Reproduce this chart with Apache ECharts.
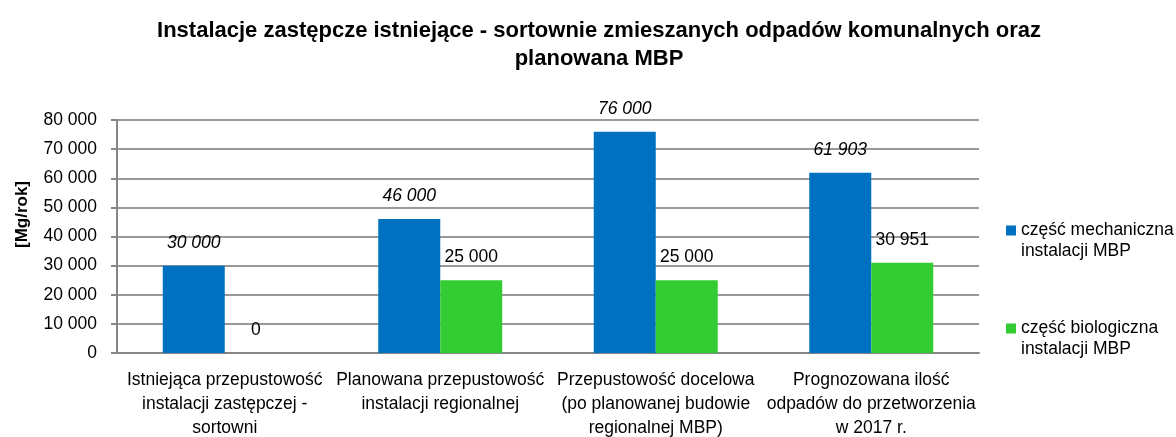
<!DOCTYPE html>
<html>
<head>
<meta charset="utf-8">
<script src="https://cdn.jsdelivr.net/npm/echarts@6/dist/echarts.min.js"></script>
<style>
  html, body { margin: 0; padding: 0; background: #fff; }
  #chart { width: 1176px; height: 437px; }
</style>
</head>
<body>
<div id="chart"></div>
<script>
// data
const categories = [
  "Istniejąca przepustowość\ninstalacji zastępczej -\nsortowni",
  "Planowana przepustowość\ninstalacji regionalnej",
  "Przepustowość docelowa\n(po planowanej budowie\nregionalnej MBP)",
  "Prognozowana ilość\nodpadów do przetworzenia\nw 2017 r."
];
const mechValues = [30000, 46000, 76000, 61903];
const bioValues = [0, 25000, 25000, 30951];
const seriesNames = ["część mechaniczna\ninstalacji MBP", "część biologiczna\ninstalacji MBP"];
const yTicks = [0, 10000, 20000, 30000, 40000, 50000, 60000, 70000, 80000];

const FONT = "'Liberation Sans', Arial, sans-serif";
const fmt = v => String(v).replace(/\B(?=(\d{3})+(?!\d))/g, " ");

const chart = echarts.init(document.getElementById("chart"));
chart.setOption({
  animation: false,
  textStyle: { fontFamily: FONT },
  color: ["#0070C0", "#33CC33"],
  title: {
    text: "Instalacje zastępcze istniejące - sortownie zmieszanych odpadów komunalnych oraz\nplanowana MBP",
    left: 594,
    textAlign: "center",
    top: 12,
    textStyle: { fontSize: 22, fontWeight: "bold", color: "#000", lineHeight: 28, fontFamily: FONT }
  },
  legend: {
    orient: "vertical",
    left: 1001,
    top: 215,
    itemWidth: 10,
    itemHeight: 31,
    itemGap: 56,
    // square sits on the first text line, tiny dot keeps the box tall
    icon: "path://M0,0h10v10h-10z M0,30.9h0.1v0.1h-0.1z",
    data: seriesNames,
    textStyle: { fontSize: 17.5, color: "#000", lineHeight: 21, fontFamily: FONT }
  },
  // keep the plot box fixed even though the last label line touches the edge
  grid: { left: 117, right: 197, top: 120, bottom: 84, outerBoundsMode: "none" },
  xAxis: {
    type: "category",
    data: categories,
    axisTick: { show: false },
    axisLine: { lineStyle: { color: "#868686", width: 2 } },
    axisLabel: {
      interval: 0,
      fontSize: 17.5,
      lineHeight: 24,
      color: "#000",
      margin: 15,
      fontFamily: FONT
    }
  },
  yAxis: {
    type: "value",
    min: yTicks[0],
    max: yTicks[yTicks.length - 1],
    interval: 10000,
    name: "[Mg/rok]",
    nameLocation: "middle",
    nameGap: 86,
    nameTextStyle: { fontSize: 17, fontWeight: "bold", color: "#000", fontFamily: FONT, padding: [0, 0, 0, 44] },
    axisLine: { show: true, lineStyle: { color: "#868686", width: 2 } },
    axisTick: { show: true, length: 6, lineStyle: { color: "#868686", width: 2 } },
    splitLine: { lineStyle: { color: "#999999", width: 2 } },
    axisLabel: {
      fontSize: 17.5,
      color: "#000",
      margin: 20,
      fontFamily: FONT,
      formatter: v => fmt(v)
    }
  },
  series: [
    {
      name: seriesNames[0],
      type: "bar",
      data: mechValues,
      barWidth: 62,
      barGap: "0%",
      label: {
        show: true,
        position: "top",
        distance: 14,
        fontSize: 17.5,
        fontStyle: "italic",
        color: "#000",
        fontFamily: FONT,
        formatter: p => fmt(p.value)
      }
    },
    {
      name: seriesNames[1],
      type: "bar",
      data: bioValues,
      barWidth: 62,
      barGap: "0%",
      label: {
        show: true,
        position: "top",
        distance: 14,
        fontSize: 17.5,
        color: "#000",
        fontFamily: FONT,
        formatter: p => fmt(p.value)
      }
    }
  ]
});
</script>
</body>
</html>
